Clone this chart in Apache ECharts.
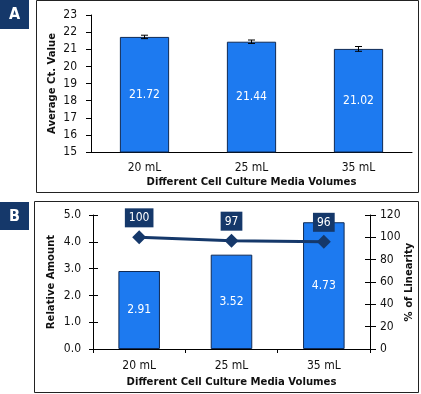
<!DOCTYPE html>
<html>
<head>
<meta charset="utf-8">
<script src="https://cdn.jsdelivr.net/npm/echarts@6/dist/echarts.min.js"></script>
<style>
html,body{margin:0;padding:0;background:#fff;}
#c{width:421px;height:394px;}
</style>
</head>
<body>
<div id="c"></div>
<script>
var categories = ['20 mL', '25 mL', '35 mL'];
var ctValues = [21.72, 21.44, 21.02];
var ctErrors = [0.1, 0.1, 0.14];
var relAmount = [2.91, 3.52, 4.73];
var linearity = [100, 97, 96];
var xTitle = 'Different Cell Culture Media Volumes';

var FONT = '"DejaVu Sans Condensed", "DejaVu Sans", sans-serif';
var BAR = '#1d7af0';
var EDGE = '#0f2a55';
var NAVY = '#15386a';
var NAME_SIZE = 11.2;

var chart = echarts.init(document.getElementById('c'), null, {renderer: 'canvas'});

function ticksInside(grid, pos, min, max, interval) {
  return {
    type: 'value', gridIndex: grid, position: pos, min: min, max: max, interval: interval,
    axisLine: {show: false}, axisLabel: {show: false}, splitLine: {show: false},
    axisTick: {show: true, inside: true, length: 5, lineStyle: {color: '#000'}}
  };
}

var option = {
  animation: false,
  textStyle: {fontFamily: FONT},
  graphic: [
    {type: 'rect', shape: {x: 36.5, y: 0.5, width: 382, height: 192}, style: {fill: 'none', stroke: '#222', lineWidth: 1}},
    {type: 'rect', shape: {x: 34.5, y: 201.5, width: 384, height: 191}, style: {fill: 'none', stroke: '#222', lineWidth: 1}},
    {type: 'rect', shape: {x: 0, y: 0, width: 29, height: 29}, style: {fill: NAVY}},
    {type: 'text', x: 14.5, y: 15, style: {text: 'A', fill: '#fff', font: 'bold 16px ' + FONT, align: 'center', verticalAlign: 'middle'}},
    {type: 'rect', shape: {x: 0, y: 202, width: 29, height: 28}, style: {fill: NAVY}},
    {type: 'text', x: 14.5, y: 216.5, style: {text: 'B', fill: '#fff', font: 'bold 16px ' + FONT, align: 'center', verticalAlign: 'middle'}}
  ],
  grid: [
    {left: 91, top: 15, right: 9, bottom: 242, containLabel: false, outerBoundsMode: 'none'},
    {left: 93, top: 215, right: 51, bottom: 45, containLabel: false, outerBoundsMode: 'none'}
  ],
  xAxis: [
    {
      type: 'category', gridIndex: 0, data: categories,
      axisLine: {lineStyle: {color: '#000'}},
      axisTick: {length: 5, lineStyle: {color: '#000'}},
      axisLabel: {color: '#111', fontSize: 12, margin: 10, fontFamily: FONT},
      name: xTitle, nameLocation: 'middle', nameGap: 25, nameMoveOverlap: false,
      nameTextStyle: {fontWeight: 'bold', fontSize: NAME_SIZE, color: '#111', fontFamily: FONT}
    },
    {
      type: 'category', gridIndex: 1, data: categories,
      axisLine: {lineStyle: {color: '#000'}},
      axisTick: {length: 3, lineStyle: {color: '#000'}},
      axisLabel: {color: '#111', fontSize: 12, margin: 11, fontFamily: FONT},
      name: xTitle, nameLocation: 'middle', nameGap: 28, nameMoveOverlap: false,
      nameTextStyle: {fontWeight: 'bold', fontSize: NAME_SIZE, color: '#111', fontFamily: FONT}
    },
    {
      type: 'category', gridIndex: 1, data: categories,
      axisLine: {show: false}, axisLabel: {show: false},
      axisTick: {show: true, inside: true, length: 4, lineStyle: {color: '#000'}}
    }
  ],
  yAxis: [
    {
      type: 'value', gridIndex: 0, min: 15, max: 23, interval: 1,
      axisLine: {show: true, lineStyle: {color: '#000'}},
      axisTick: {show: true, length: 5, lineStyle: {color: '#000'}},
      splitLine: {show: false},
      axisLabel: {color: '#111', fontSize: 12, margin: 14, fontFamily: FONT},
      name: 'Average Ct. Value', nameLocation: 'middle', nameGap: 33, nameMoveOverlap: false,
      nameTextStyle: {fontWeight: 'bold', fontSize: NAME_SIZE, color: '#111', fontFamily: FONT}
    },
    {
      type: 'value', gridIndex: 1, position: 'left', min: 0, max: 5, interval: 1,
      axisLine: {show: true, lineStyle: {color: '#000'}},
      axisTick: {show: true, length: 4, lineStyle: {color: '#000'}},
      splitLine: {show: false},
      axisLabel: {color: '#111', fontSize: 12, margin: 12, fontFamily: FONT,
        formatter: function (v) { return v.toFixed(1); }},
      name: 'Relative Amount', nameLocation: 'middle', nameGap: 36, nameMoveOverlap: false,
      nameTextStyle: {fontWeight: 'bold', fontSize: NAME_SIZE, color: '#111', fontFamily: FONT}
    },
    {
      type: 'value', gridIndex: 1, position: 'right', min: 0, max: 120, interval: 20,
      axisLine: {show: true, lineStyle: {color: '#000'}},
      axisTick: {show: true, length: 6, lineStyle: {color: '#000'}},
      splitLine: {show: false},
      axisLabel: {color: '#111', fontSize: 12, margin: 10, fontFamily: FONT},
      name: '% of Linearity', nameLocation: 'middle', nameGap: 34, nameMoveOverlap: false,
      nameTextStyle: {fontWeight: 'bold', fontSize: NAME_SIZE, color: '#111', fontFamily: FONT}
    },
    ticksInside(1, 'left', 0, 5, 1),
    ticksInside(1, 'right', 0, 120, 20)
  ],
  series: [
    {
      type: 'bar', xAxisIndex: 0, yAxisIndex: 0, data: ctValues, barWidth: '46%',
      itemStyle: {color: BAR, borderColor: EDGE, borderWidth: 1},
      label: {show: true, position: 'inside', color: '#fff', fontSize: 12, fontFamily: FONT}
    },
    {
      type: 'custom', xAxisIndex: 0, yAxisIndex: 0,
      data: ctValues.map(function (v, i) { return [i, v - ctErrors[i], v + ctErrors[i]]; }),
      renderItem: function (params, api) {
        var lo = api.coord([api.value(0), api.value(1)]);
        var hi = api.coord([api.value(0), api.value(2)]);
        var hw = 3.5;
        var st = {stroke: '#000', lineWidth: 1};
        return {type: 'group', children: [
          {type: 'line', shape: {x1: lo[0], y1: lo[1], x2: hi[0], y2: hi[1]}, style: st},
          {type: 'line', shape: {x1: lo[0] - hw, y1: lo[1], x2: lo[0] + hw, y2: lo[1]}, style: st},
          {type: 'line', shape: {x1: hi[0] - hw, y1: hi[1], x2: hi[0] + hw, y2: hi[1]}, style: st}
        ]};
      },
      z: 5
    },
    {
      type: 'bar', xAxisIndex: 1, yAxisIndex: 1, data: relAmount, barWidth: '45%',
      itemStyle: {color: BAR, borderColor: EDGE, borderWidth: 1},
      label: {show: true, position: 'inside', color: '#fff', fontSize: 12, fontFamily: FONT,
        formatter: function (p) { return p.value.toFixed(2); }}
    },
    {
      type: 'line', xAxisIndex: 1, yAxisIndex: 2, data: linearity,
      symbol: 'diamond', symbolSize: 14,
      lineStyle: {color: NAVY, width: 3},
      itemStyle: {color: NAVY},
      label: {show: true, position: 'top', distance: 3, color: '#fff', backgroundColor: NAVY,
        padding: [4, 4, 3, 4], fontSize: 12, fontFamily: FONT},
      z: 10
    }
  ]
};
chart.setOption(option);
</script>
</body>
</html>
